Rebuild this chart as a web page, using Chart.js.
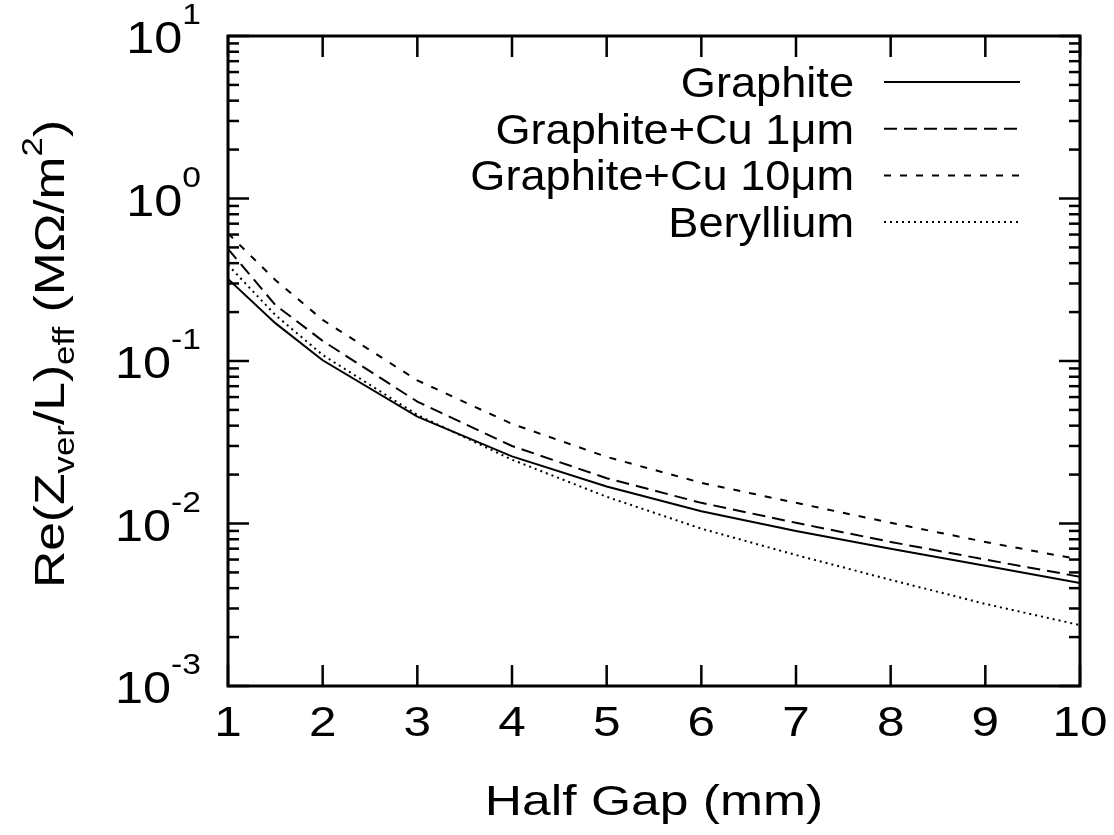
<!DOCTYPE html>
<html>
<head>
<meta charset="utf-8">
<title>Half gap impedance</title>
<script src="https://cdn.jsdelivr.net/npm/chart.js@4.4.1/dist/chart.umd.min.js"></script>
<style>
  html, body { margin: 0; padding: 0; background: #fff; }
  canvas { display: block; }
</style>
</head>
<body>
<canvas id="gapChart" width="1114" height="835"></canvas>
<script>
// half gap in mm
const halfGap = [1, 1.5, 2, 3, 4, 5, 6, 7, 8, 9, 10];

// Re(Z_ver/L)_eff in MOhm/m^2
const graphite  = [0.32, 0.171, 0.101, 0.0454, 0.0259, 0.0169, 0.0119, 0.0090, 0.0070, 0.0055, 0.0043];
const cu1um     = [0.49, 0.221, 0.133, 0.0562, 0.0300, 0.0190, 0.0134, 0.0101, 0.0077, 0.0060, 0.0047];
const cu10um    = [0.61, 0.315, 0.179, 0.0760, 0.0410, 0.0257, 0.0178, 0.0134, 0.0101, 0.0077, 0.0060];
const beryllium = [0.39, 0.192, 0.109, 0.0466, 0.0247, 0.0146, 0.0093, 0.0064, 0.0045, 0.0032, 0.00237];

const seriesNames = ['Graphite', 'Graphite+Cu 1\u03bcm', 'Graphite+Cu 10\u03bcm', 'Beryllium'];
const seriesDash  = [[], [13, 7], [7, 9], [2, 4]];

const xTicks = [1, 2, 3, 4, 5, 6, 7, 8, 9, 10];
const yExponents = [-3, -2, -1, 0, 1];

const FONT = '"Liberation Sans", Arial, Helvetica, sans-serif';
const BIG = 43, SMALL = 29;
const MAJOR = 21, MINOR = 11;

function font(size) { return size + 'px ' + FONT; }

// draws a run of text pieces (normal / sub / superscript) on one baseline,
// widened horizontally by `stretch`
function drawRuns(ctx, runs, x, y, align, stretch) {
  stretch = stretch || 1.15;
  let total = 0;
  runs.forEach(r => {
    ctx.font = font(r.size);
    r.w = ctx.measureText(r.text).width * stretch;
    total += r.w;
  });
  let cx = align === 'right' ? x - total : align === 'center' ? x - total / 2 : x;
  ctx.textAlign = 'left';
  ctx.textBaseline = 'alphabetic';
  runs.forEach(r => {
    ctx.font = font(r.size);
    ctx.save();
    ctx.translate(cx, y + (r.shift || 0));
    ctx.scale(stretch, 1);
    ctx.fillText(r.text, 0, 0);
    ctx.restore();
    cx += r.w;
  });
}

function seg(ctx, x1, y1, x2, y2) {
  ctx.beginPath();
  ctx.moveTo(x1, y1);
  ctx.lineTo(x2, y2);
  ctx.stroke();
}

const gnuFrame = {
  id: 'gnuFrame',
  afterDraw(chart) {
    const { ctx, chartArea: a, scales: { x, y } } = chart;
    ctx.save();
    ctx.strokeStyle = '#000';
    ctx.fillStyle = '#000';
    ctx.setLineDash([]);

    // tick marks, pointing inward on all four sides
    ctx.lineWidth = 2.5;
    xTicks.forEach(v => {
      const px = x.getPixelForValue(v);
      seg(ctx, px, a.bottom, px, a.bottom - MAJOR);
      seg(ctx, px, a.top, px, a.top + MAJOR);
    });
    yExponents.forEach(e => {
      for (let m = 1; m <= 9; m++) {
        const v = m * Math.pow(10, e);
        if (v > y.max * 1.0001) break;
        const py = y.getPixelForValue(v);
        const len = m === 1 ? MAJOR : MINOR;
        seg(ctx, a.left, py, a.left + len, py);
        seg(ctx, a.right, py, a.right - len, py);
      }
    });

    ctx.lineWidth = 3;
    ctx.strokeRect(a.left, a.top, a.right - a.left, a.bottom - a.top);

    // x tick labels and title
    xTicks.forEach(v => {
      drawRuns(ctx, [{ text: String(v), size: BIG }], x.getPixelForValue(v), a.bottom + 50, 'center');
    });
    drawRuns(ctx, [{ text: 'Half Gap (mm)', size: BIG }], (a.left + a.right) / 2, 815, 'center', 1.2);

    // y tick labels as powers of ten
    yExponents.forEach(e => {
      const py = y.getPixelForValue(Math.pow(10, e));
      const exp = e < 0 ? '-' + Math.abs(e) : String(e);
      drawRuns(ctx, [
        { text: '10', size: 45, shift: 17 },
        { text: exp, size: 30, shift: -12 }
      ], 201, py, 'right', 1.12);
    });

    // rotated y title
    ctx.save();
    ctx.translate(64, 354);
    ctx.rotate(-Math.PI / 2);
    drawRuns(ctx, [
      { text: 'Re(Z', size: BIG },
      { text: 'ver', size: SMALL, shift: 10 },
      { text: '/L)', size: BIG },
      { text: 'eff', size: SMALL, shift: 10 },
      { text: ' (M\u03a9/m', size: BIG },
      { text: '2', size: SMALL, shift: -22 },
      { text: ')', size: BIG }
    ], 0, 0, 'center', 1.2);
    ctx.restore();

    // key in the upper right corner
    chart.data.datasets.forEach((ds, i) => {
      const rowY = 82 + i * 46.7;
      drawRuns(ctx, [{ text: ds.label, size: BIG }], 854, rowY + 15, 'right', 1.05);
      ctx.lineWidth = ds.borderWidth;
      ctx.setLineDash(ds.borderDash);
      seg(ctx, 884, rowY, 1020, rowY);
      ctx.setLineDash([]);
    });
    ctx.restore();
  }
};

const seriesData = [graphite, cu1um, cu10um, beryllium];

new Chart(document.getElementById('gapChart'), {
  type: 'line',
  data: {
    labels: halfGap,
    datasets: seriesData.map((vals, i) => ({
      label: seriesNames[i],
      data: halfGap.map((g, k) => ({ x: g, y: vals[k] })),
      borderColor: '#000',
      borderWidth: 2,
      borderDash: seriesDash[i],
      pointRadius: 0,
      tension: 0,
      fill: false
    }))
  },
  options: {
    responsive: false,
    animation: false,
    events: [],
    layout: { padding: { left: 228, right: 34, top: 36, bottom: 149 } },
    plugins: { legend: { display: false }, tooltip: { enabled: false } },
    scales: {
      x: { type: 'linear', min: 1, max: 10, display: false },
      y: { type: 'logarithmic', min: 0.001, max: 10, display: false }
    }
  },
  plugins: [gnuFrame]
});
</script>
</body>
</html>
